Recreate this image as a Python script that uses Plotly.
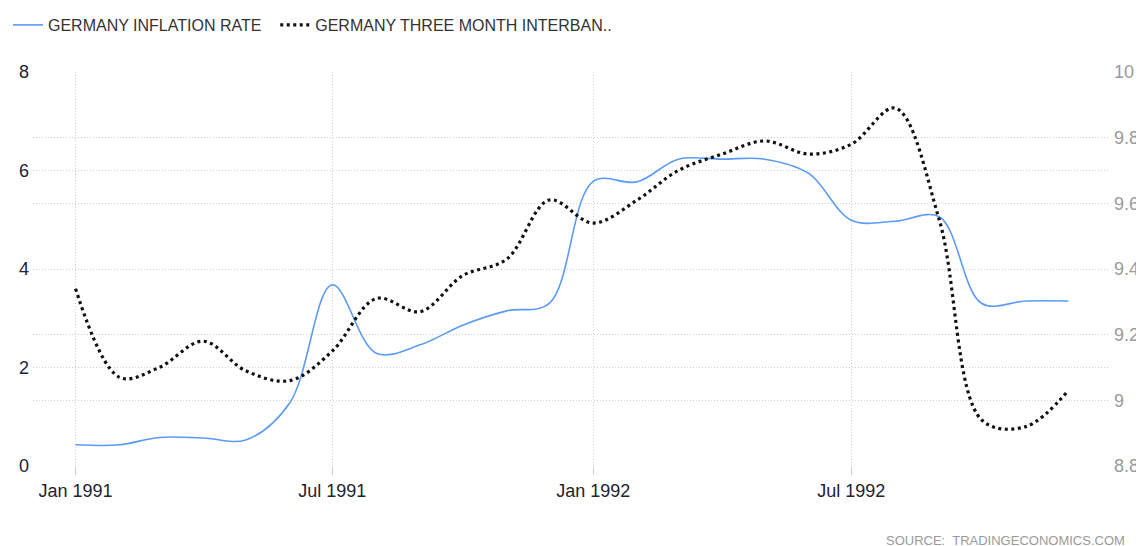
import plotly.graph_objects as go

months = ["1991-01-01", "1991-02-01", "1991-03-01", "1991-04-01", "1991-05-01", "1991-06-01",
          "1991-07-01", "1991-08-01", "1991-09-01", "1991-10-01", "1991-11-01", "1991-12-01",
          "1992-01-01", "1992-02-01", "1992-03-01", "1992-04-01", "1992-05-01", "1992-06-01",
          "1992-07-01", "1992-08-01", "1992-09-01", "1992-10-01", "1992-11-01", "1992-12-01"]

inflation = [0.43, 0.43, 0.58, 0.57, 0.53, 1.28, 3.68, 2.29, 2.46, 2.86, 3.15, 3.3,
             5.78, 5.77, 6.23, 6.23, 6.23, 5.94, 4.99, 4.97, 5.06, 3.3, 3.35, 3.35]

interbank = [9.34, 9.07, 9.10, 9.18, 9.09, 9.06, 9.15, 9.31, 9.27, 9.38, 9.43, 9.61,
             9.54, 9.61, 9.70, 9.75, 9.79, 9.75, 9.78, 9.89, 9.55, 8.94, 8.92, 9.03]

x_ticks = ["1991-01-01", "1991-07-01", "1992-01-01", "1992-07-01"]
x_tick_labels = ["Jan 1991", "Jul 1991", "Jan 1992", "Jul 1992"]
left_ticks = [0, 2, 4, 6, 8]
right_ticks = [8.8, 9.0, 9.2, 9.4, 9.6, 9.8, 10.0]
right_tick_labels = ["8.8", "9", "9.2", "9.4", "9.6", "9.8", "10"]

FONT = "Liberation Sans"
GRID = "#cfcfcf"
GRIDDASH = "1px,2px"

fig = go.Figure()
fig.add_trace(go.Scatter(
    x=months, y=inflation, name="GERMANY INFLATION RATE\u00a0\u00a0", mode="lines",
    line=dict(color="#5b9bf5", width=1.6, shape="spline", smoothing=1.0),
    yaxis="y",
))
fig.add_trace(go.Scatter(
    x=months, y=interbank, name="GERMANY THREE MONTH INTERBAN..", mode="lines",
    line=dict(color="#111111", width=3.2, dash="3px,3.5px", shape="spline", smoothing=1.0),
    yaxis="y2",
))

# page body has an 8px margin, so the figure is sized and placed to compensate
fig.update_layout(
    width=1136, height=538,
    margin=dict(l=25, r=36, t=64, b=80, autoexpand=False),
    paper_bgcolor="white", plot_bgcolor="white",
    font=dict(family=FONT, color="#333333"),
    showlegend=True,
    legend=dict(orientation="h", xref="container", yref="container",
                x=0.0, xanchor="left", y=1.0, yanchor="top",
                font=dict(size=16, color="#333333", family=FONT),
                bgcolor="rgba(0,0,0,0)", itemwidth=30, tracegroupgap=0),
    xaxis=dict(
        type="date", range=["1990-12-02", "1992-12-29"],
        tickmode="array", tickvals=x_ticks, ticktext=x_tick_labels,
        showgrid=True, gridcolor=GRID, griddash=GRIDDASH, gridwidth=1,
        ticks="outside", ticklen=8, tickcolor=GRID,
        showline=False, zeroline=False, automargin=False,
        tickfont=dict(size=18, color="#222233", family=FONT),
    ),
    yaxis=dict(
        range=[0, 8], tickmode="array", tickvals=left_ticks,
        showgrid=True, gridcolor=GRID, griddash=GRIDDASH, gridwidth=1,
        zeroline=False, showline=False, ticks="", ticklabelstandoff=3,
        automargin=False,
        tickfont=dict(size=18, color="#222233", family=FONT),
    ),
    yaxis2=dict(
        range=[8.8, 10], overlaying="y", side="right", tickmode="array",
        tickvals=right_ticks, ticktext=right_tick_labels,
        showgrid=True, gridcolor=GRID, griddash=GRIDDASH, gridwidth=1,
        zeroline=False, showline=False, ticks="", ticklabelstandoff=5,
        automargin=False,
        tickfont=dict(size=18, color="#9a9a9a", family=FONT),
    ),
    annotations=[dict(
        text="SOURCE:  TRADINGECONOMICS.COM", xref="paper", yref="paper",
        x=1.0177, y=-0.19, xanchor="right", yanchor="middle", showarrow=False,
        font=dict(size=13, color="#9a9a9a", family=FONT),
    )],
)

fig.write_html("out.html")
